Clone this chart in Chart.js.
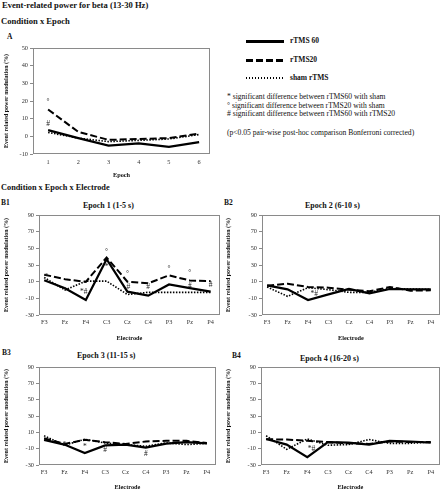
<!DOCTYPE html>
<html>
<head>
<meta charset="utf-8">
<script src="https://cdn.jsdelivr.net/npm/chart.js@4.4.1/dist/chart.umd.min.js"></script>
<style>
body { margin: 0; background: #fff; font-family: 'Liberation Serif', 'Times New Roman', serif; color: #111; }
#fig { position: relative; width: 442px; height: 492px; overflow: hidden; }
.t { position: absolute; white-space: nowrap; line-height: 1; }
.b { font-weight: bold; }
canvas { position: absolute; }
.swatch { position: absolute; width: 38px; }
</style>
</head>
<body>
<div id="fig">
  <div class="t b" style="left:2px;top:1px;font-size:8.6px">Event-related power for beta (13-30 Hz)</div>
  <div class="t b" style="left:1px;top:17px;font-size:8.6px">Condition x Epoch</div>
  <div class="t b" style="left:7px;top:33px;font-size:7.5px">A</div>
  <div class="t b" style="left:1px;top:184px;font-size:8.3px">Condition x Epoch x Electrode</div>
  <div class="t b" style="left:1px;top:199px;font-size:7.5px">B1</div>
  <div class="t b" style="left:83px;top:202px;font-size:8px">Epoch 1 (1-5 s)</div>
  <div class="t b" style="left:224px;top:199px;font-size:7.5px">B2</div>
  <div class="t b" style="left:305px;top:202px;font-size:8px">Epoch 2 (6-10 s)</div>
  <div class="t b" style="left:2px;top:349px;font-size:7.5px">B3</div>
  <div class="t b" style="left:77px;top:352px;font-size:8px">Epoch 3 (11-15 s)</div>
  <div class="t b" style="left:232px;top:352px;font-size:7.5px">B4</div>
  <div class="t b" style="left:300px;top:355px;font-size:8px">Epoch 4 (16-20 s)</div>

  <div class="swatch" style="left:246px;top:40px;height:3px;background:#000"></div>
  <div class="swatch" style="left:246px;top:59px;height:3px;background:repeating-linear-gradient(to right,#000 0 7px,transparent 7px 10px)"></div>
  <div class="swatch" style="left:246px;top:77px;height:2px;background:repeating-linear-gradient(to right,#000 0 1.5px,transparent 1.5px 3px)"></div>
  <div class="t b" style="left:290px;top:37px;font-size:7.5px">rTMS 60</div>
  <div class="t b" style="left:290px;top:56px;font-size:7.5px">rTMS20</div>
  <div class="t b" style="left:290px;top:74px;font-size:7.5px">sham rTMS</div>
  <div class="t" style="left:227px;top:93px;font-size:7.6px">* significant difference between rTMS60 with sham</div>
  <div class="t" style="left:227px;top:102px;font-size:7.6px">° significant difference between rTMS20 with sham</div>
  <div class="t" style="left:227px;top:110px;font-size:7.6px"># significant difference between rTMS60 with rTMS20</div>
  <div class="t" style="left:227px;top:129px;font-size:7.6px">(p&lt;0.05 pair-wise post-hoc comparison Bonferroni corrected)</div>

  <canvas id="cA" width="215" height="145" style="left:0;top:40px"></canvas>
  <canvas id="cB1" width="222" height="138" style="left:0;top:207px"></canvas>
  <canvas id="cB2" width="220" height="138" style="left:222px;top:207px"></canvas>
  <canvas id="cB3" width="220" height="134" style="left:0;top:358px"></canvas>
  <canvas id="cB4" width="220" height="134" style="left:222px;top:358px"></canvas>
</div>

<script>
const EPOCHS = [1, 2, 3, 4, 5, 6];
const ELECTRODES = ['F3', 'Fz', 'F4', 'C3', 'Cz', 'C4', 'P3', 'Pz', 'P4'];
const SERIES_NAMES = ['rTMS 60', 'rTMS20', 'sham rTMS'];

// A: condition x epoch
const A_RTMS60 = [3.5, -1, -5.2, -4, -6, -3.3];
const A_RTMS20 = [15.2, 2.5, -2, -1.5, -1, 1.5];
const A_SHAM = [2.2, -1, -3, -2.3, -1.5, 1];
const A_MARKS = [[1, 19.5, '°'], [1, 6.8, '#']];

// B1..B4: condition x epoch x electrode
const B1_RTMS60 = [11.6, 2, -12, 37, -2, -6.8, 6.6, 2.2, -2];
const B1_RTMS20 = [18.4, 13, 9.8, 39, 10, 8, 17.6, 11.4, 10.6];
const B1_SHAM = [15, 0, 10.6, 10.6, -5.4, -2.8, -2.8, -2.8, -2.8];
const B1_MARKS = [[0.1, 15, '*'], [1, -1, '°'], [1.9, -3, '*#'], [3, 46, '°'], [3, 27, '*'],
    [4, 19, '°'], [4.05, 4, '#'], [5, 3, '#'], [6, 25.5, '°'], [7, 20, '°'], [7, 4.5, '#'], [8, 6.5, '#']];

const B2_RTMS60 = [5.6, 0.8, -12, -5.2, 1.2, -4, 1.2, 0.8, 0.8];
const B2_RTMS20 = [5.2, 7.6, 3.6, 2.8, 0.4, -1.6, 3.6, -0.8, -0.4];
const B2_SHAM = [3.6, -7.6, 2.8, 0.4, -2.8, -2.8, 2, 1.2, 0.8];
const B2_MARKS = [[2.3, -5, '*#']];

const B3_RTMS60 = [0.8, -5, -15.4, -6, -5, -8.8, -3.8, -2, -3.5];
const B3_RTMS20 = [2.7, -4.2, 0.8, -2, -4.2, -1.2, -0.4, -0.4, -3];
const B3_SHAM = [5.8, -5.8, 1.5, -3, -5, -7, -3, -5, -3.5];
const B3_MARKS = [[1, -5.5, '*'], [2, -7.5, '*'], [3, -11.5, '#'], [5, -16, '#']];

const B4_RTMS60 = [1.9, -5, -20.4, -1.9, -2.7, -5, -0.4, -1.2, -2.7];
const B4_RTMS20 = [1.5, 1.2, -0.4, -1.9, -3.5, -4.2, -1.2, -1.9, -1.9];
const B4_SHAM = [5.8, -10.8, 1.9, -5.8, -5, 1.2, -3.5, -3.5, -1.9];
const B4_MARKS = [[2.2, -10, '*#']];

const LINE_STYLES = [
    { borderColor: '#000', borderWidth: 2.2, borderDash: [] },
    { borderColor: '#000', borderWidth: 2, borderDash: [7, 3] },
    { borderColor: '#000', borderWidth: 1.6, borderDash: [1.5, 1.5] },
];
const FONT = "'Liberation Serif', 'Times New Roman', serif";
const Y_TITLE = 'Event related power modulation (%)';

// grey frame round the plot area, as in the Excel original
const frameBox = {
    id: 'frameBox',
    beforeDatasetsDraw(chart) {
        const { ctx, chartArea: a } = chart;
        ctx.save();
        ctx.strokeStyle = '#8a8a8a';
        ctx.lineWidth = 1;
        ctx.strokeRect(Math.round(a.left) + 0.5, Math.round(a.top) + 0.5, Math.round(a.width) - 1, Math.round(a.height) - 1);
        ctx.restore();
    },
};

// significance symbols, placed in data units
const sigMarks = {
    id: 'sigMarks',
    afterDatasetsDraw(chart, args, opts) {
        const { ctx, scales: { x, y } } = chart;
        ctx.save();
        ctx.font = `7.5px ${FONT}`;
        ctx.fillStyle = '#222';
        ctx.textAlign = 'center';
        ctx.textBaseline = 'middle';
        (opts.marks || []).forEach(([xv, yv, t]) => ctx.fillText(t, x.getPixelForValue(xv), y.getPixelForValue(yv)));
        ctx.restore();
    },
};

function drawPanel(id, p) {
    new Chart(document.getElementById(id), {
        type: 'line',
        data: {
            datasets: p.series.map((vals, i) => ({
                label: SERIES_NAMES[i],
                data: vals.map((v, k) => ({ x: p.xs[k], y: v })),
                pointRadius: 0,
                tension: 0,
                fill: false,
                ...LINE_STYLES[i],
            })),
        },
        options: {
            responsive: false,
            animation: false,
            layout: { padding: { top: p.padTop, right: p.padRight, left: 0, bottom: 0 } },
            plugins: { legend: { display: false }, tooltip: { enabled: false }, sigMarks: { marks: p.marks } },
            scales: {
                x: {
                    type: 'linear',
                    min: p.xMin,
                    max: p.xMax,
                    afterBuildTicks: (s) => { s.ticks = p.xs.map((v) => ({ value: v })); },
                    afterFit: (s) => { s.height = p.xHeight; },
                    grid: { display: false, drawTicks: false },
                    border: { display: false },
                    ticks: {
                        autoSkip: false,
                        maxRotation: 0,
                        padding: p.xTickPad,
                        color: '#333',
                        font: { family: FONT, size: 6.3 },
                        callback: p.xLabel,
                    },
                    title: {
                        display: true,
                        text: p.xTitle,
                        color: '#111',
                        padding: { top: 0, bottom: p.xTitlePad },
                        font: { family: FONT, size: 6.3, weight: 'bold' },
                    },
                },
                y: {
                    min: p.yMin,
                    max: p.yMax,
                    afterFit: (s) => { s.width = p.yWidth; },
                    grid: { drawOnChartArea: false, drawTicks: true, tickLength: 3, color: '#8a8a8a' },
                    border: { display: false },
                    ticks: { stepSize: 10, padding: 2, color: '#333', font: { family: FONT, size: 6.3 } },
                    title: {
                        display: true,
                        text: Y_TITLE,
                        color: '#111',
                        padding: { top: 3, bottom: 0 },
                        font: { family: FONT, size: 6, weight: 'bold' },
                    },
                },
            },
        },
        plugins: [frameBox, sigMarks],
    });
}

const idx = ELECTRODES.map((_, i) => i);
const electrodePanel = {
    xs: idx, xMin: -0.25, xMax: 8.45, xLabel: (v) => ELECTRODES[v], xTitle: 'Electrode',
    yMin: -30, yMax: 90, padRight: 2,
};

drawPanel('cA', {
    series: [A_RTMS60, A_RTMS20, A_SHAM], marks: A_MARKS,
    xs: EPOCHS, xMin: 0.5, xMax: 6.36, xLabel: (v) => v, xTitle: 'Epoch',
    yMin: -10, yMax: 50, yWidth: 33, padTop: 8, padRight: 5, xHeight: 31, xTickPad: 5, xTitlePad: 6,
});
drawPanel('cB1', {
    ...electrodePanel, series: [B1_RTMS60, B1_RTMS20, B1_SHAM], marks: B1_MARKS,
    yWidth: 39, padTop: 8, xHeight: 30, xTickPad: 4, xTitlePad: 3,
});
drawPanel('cB2', {
    ...electrodePanel, series: [B2_RTMS60, B2_RTMS20, B2_SHAM], marks: B2_MARKS,
    yWidth: 40, padTop: 8, xHeight: 30, xTickPad: 4, xTitlePad: 3,
});
drawPanel('cB3', {
    ...electrodePanel, series: [B3_RTMS60, B3_RTMS20, B3_SHAM], marks: B3_MARKS,
    yWidth: 39, padRight: 4, padTop: 9, xHeight: 27, xTickPad: 4, xTitlePad: 1,
});
drawPanel('cB4', {
    ...electrodePanel, series: [B4_RTMS60, B4_RTMS20, B4_SHAM], marks: B4_MARKS,
    yWidth: 39, padTop: 9, xHeight: 27, xTickPad: 4, xTitlePad: 1,
});
</script>
</body>
</html>
